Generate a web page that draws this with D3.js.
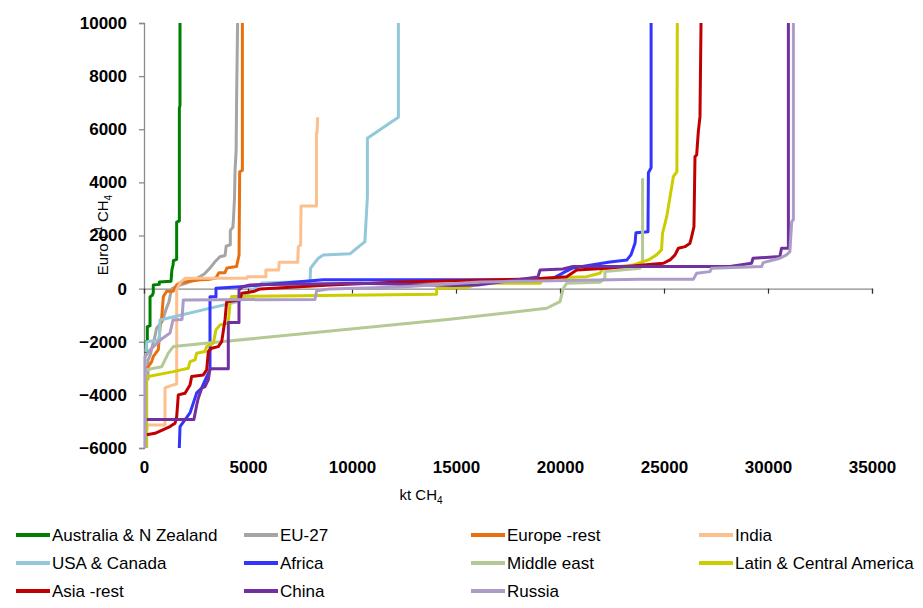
<!DOCTYPE html>
<html>
<head>
<meta charset="utf-8">
<script src="https://cdn.jsdelivr.net/npm/d3@7"></script>
<style>
  body { margin: 0; background: #fff; }
  svg { display: block; font-family: "Liberation Sans", Arial, sans-serif; }
</style>
</head>
<body>
<svg id="chart" width="923" height="608"></svg>
<script>
// Axis ticks
const xTicks = [0, 5000, 10000, 15000, 20000, 25000, 30000, 35000];
const yTicks = [-6000, -4000, -2000, 0, 2000, 4000, 6000, 8000, 10000];

// Marginal abatement cost curves: [kt CH4 cumulative, Euro per t CH4]
const australia = [[96,-2420],[96,-2000],[160,-1980],[160,-1430],[290,-1400],[290,-310],[400,-250],[447,-150],[447,140],[736,160],[736,250],[1300,280],[1340,700],[1400,900],[1410,1050],[1570,1100],[1570,2500],[1700,2550],[1700,6800],[1730,6900],[1730,10000]];
const eu27 = [[190,-3450],[190,-2700],[300,-2500],[450,-2000],[500,-1900],[600,-1500],[900,-1200],[1050,-800],[1200,-500],[1300,-100],[1350,0],[1600,100],[2000,200],[2400,320],[2900,550],[3200,800],[3400,1000],[3650,1200],[3900,1250],[3950,1600],[4150,1650],[4150,2200],[4270,2300],[4300,2600],[4350,3400],[4380,4500],[4430,5200],[4450,7000],[4500,10000]];
const europeRest = [[96,-3000],[200,-2950],[370,-2750],[450,-2550],[690,-2300],[770,-1450],[850,-1100],[930,-300],[1090,-100],[1400,-100],[1570,140],[1730,220],[2700,330],[3080,340],[3460,400],[3600,600],[3890,600],[3990,780],[4450,830],[4570,1270],[4600,4400],[4730,4450],[4730,10000]];
const india = [[144,-5320],[144,-5130],[1010,-5130],[1010,-3740],[1250,-3660],[1572,-3590],[1572,-50],[1731,215],[1971,390],[4952,390],[4966,450],[5860,450],[5860,700],[6476,700],[6500,990],[7390,990],[7420,1580],[7530,1645],[7550,3110],[8290,3110],[8290,5860],[8320,5860],[8350,6450]];
const usaCanada = [[96,-2380],[130,-2000],[736,-1930],[769,-1180],[4470,-500],[5670,215],[7980,265],[8010,770],[8380,1145],[8620,1270],[9900,1310],[10620,1770],[10740,3460],[10740,5660],[12230,6450],[12230,10000]];
const africa = [[1697,-6010],[1731,-5195],[2212,-4680],[2534,-3925],[2774,-3740],[3015,-3313],[3173,-3060],[3173,-310],[3460,-310],[3460,15],[4615,75],[8620,330],[19520,330],[20140,590],[20620,780],[22400,1005],[23220,1080],[23410,1270],[23610,1720],[23650,2100],[24230,2140],[24250,4360],[24380,4550],[24380,10000]];
const middleEast = [[48,-3060],[851,-2940],[1168,-2430],[1409,-2180],[3813,-1995],[14710,-1150],[19360,-740],[20000,-490],[20160,15],[20320,200],[21920,240],[22160,390],[22160,640],[23850,770],[23970,970],[23970,4160]];
const latinAmerica = [[130,-6010],[130,-3310],[207,-3310],[1409,-3125],[2130,-3000],[2212,-2750],[2452,-2685],[2534,-2430],[2933,-2370],[3015,-2180],[3332,-2055],[3460,-1555],[3654,-1365],[4050,-1300],[4135,-550],[4215,-300],[14070,-210],[14070,15],[15510,40],[16150,200],[19040,200],[19200,390],[21280,450],[21920,580],[22080,770],[23510,890],[24250,1080],[24640,1270],[24880,1460],[24930,2085],[25130,2710],[25450,4215],[25620,4400],[25640,10000]];
const asiaRest = [[130,-5500],[529,-5445],[1250,-5195],[1490,-5070],[1572,-4820],[1650,-4000],[1971,-3940],[2212,-3625],[2293,-3310],[2850,-3250],[3015,-3060],[3092,-2370],[3250,-2245],[3570,-2185],[3735,-1995],[3894,-1180],[3975,-490],[4615,-425],[4700,-175],[5255,-110],[5580,-10],[8940,140],[12310,250],[18700,365],[20320,450],[20800,700],[22240,770],[24970,955],[25290,1080],[25530,1270],[25690,1520],[26010,1580],[26250,1710],[26330,1960],[26440,2330],[26490,4970],[26570,5030],[26650,5910],[26730,6475],[26780,10000]];
const china = [[130,-4930],[2400,-4930],[2534,-4380],[2610,-4125],[2774,-3750],[2933,-3690],[3092,-3435],[3173,-3020],[4053,-3020],[4053,-1275],[4567,-1275],[4567,-50],[4735,65],[5100,140],[10385,200],[14860,120],[16060,140],[18940,440],[19040,700],[20140,740],[20620,830],[28170,830],[29210,955],[29280,1145],[30570,1205],[30650,1520],[30980,1520],[30980,10000]];
const russia = [[48,-6000],[48,-2570],[288,-2310],[625,-2050],[913,-1855],[1250,-1670],[1394,-1180],[1827,-1160],[1890,-425],[8220,-405],[8300,-85],[8940,-10],[12310,65],[16150,250],[23850,355],[26410,355],[26570,580],[27210,640],[27290,770],[29690,830],[29770,980],[30570,1145],[30890,1270],[31050,1390],[31140,2520],[31220,2590],[31220,10000]];

const seriesNames = ["Australia & N Zealand", "EU-27", "Europe -rest", "India", "USA & Canada", "Africa", "Middle east", "Latin & Central America", "Asia -rest", "China", "Russia"];
const seriesData = [australia, eu27, europeRest, india, usaCanada, africa, middleEast, latinAmerica, asiaRest, china, russia];
const seriesColors = ["#008000", "#A5A5A5", "#E8700F", "#FBC08E", "#92C8D9", "#3434FF", "#B4C996", "#CCCC00", "#C00000", "#7030A0", "#AC9CC8"];

const svg = d3.select("#chart");
const x = d3.scaleLinear().domain([0, 35000]).range([144, 872]);
const y = d3.scaleLinear().domain([-6000, 10000]).range([448, 23]);

svg.append("defs").append("clipPath").attr("id", "plotClip")
  .append("rect").attr("x", x(0) - 2).attr("y", y(10000)).attr("width", x(35000) - x(0) + 4).attr("height", y(-6000) - y(10000));

// Y axis
const yAxis = svg.append("g").attr("transform", `translate(${x(0)},0)`)
  .call(d3.axisLeft(y).tickValues(yTicks).tickSize(5).tickPadding(12).tickFormat(d3.format("d")));
yAxis.select(".domain").attr("stroke", "#8a8a8a").attr("stroke-width", 1.3);
yAxis.selectAll(".tick line").attr("stroke", "#8a8a8a").attr("stroke-width", 1.3);
yAxis.selectAll("text").attr("font-size", 17).attr("font-weight", "bold").attr("fill", "#000");

// X axis line through zero, with tick marks
const xAxis = svg.append("g").attr("transform", `translate(0,${y(0)})`)
  .call(d3.axisBottom(x).tickValues(xTicks).tickSize(5).tickFormat(""));
xAxis.select(".domain").attr("stroke", "#8a8a8a").attr("stroke-width", 1.3);
xAxis.selectAll(".tick line").attr("stroke", "#333").attr("stroke-width", 1.2);

// X tick labels along the bottom of the plot area
const xLabels = svg.append("g").attr("transform", `translate(0,${y(-6000)})`)
  .call(d3.axisBottom(x).tickValues(xTicks).tickSize(0).tickPadding(13).tickFormat(d3.format("d")));
xLabels.select(".domain").remove();
xLabels.selectAll("text").attr("font-size", 17).attr("font-weight", "bold").attr("fill", "#000");

// Axis titles
const xTitle = svg.append("text").attr("x", 421).attr("y", 500).attr("text-anchor", "middle")
  .attr("font-size", 15).attr("fill", "#000");
xTitle.append("tspan").text("kt CH");
xTitle.append("tspan").attr("font-size", 10).attr("dy", 4).text("4");

const yTitle = svg.append("text").attr("transform", "translate(108,235) rotate(-90)")
  .attr("text-anchor", "middle").attr("font-size", 15).attr("fill", "#000");
yTitle.append("tspan").text("Euro t");
yTitle.append("tspan").attr("font-size", 10).attr("dy", -6).text("-1");
yTitle.append("tspan").attr("dy", 6).text(" CH");
yTitle.append("tspan").attr("font-size", 10).attr("dy", 4).text("4");

// Curves
const line = d3.line().x(d => x(d[0])).y(d => y(d[1]));
svg.append("g").attr("clip-path", "url(#plotClip)")
  .selectAll("path").data(seriesData).join("path")
  .attr("d", line)
  .attr("fill", "none")
  .attr("stroke", (d, i) => seriesColors[i])
  .attr("stroke-width", 3)
  .attr("stroke-linejoin", "round");

// Legend
const legendCols = [16, 244, 471, 699];
const legendRows = [535, 563, 591];
const legend = svg.append("g").selectAll("g").data(seriesNames).join("g")
  .attr("transform", (d, i) => `translate(${legendCols[i % 4]},${legendRows[Math.floor(i / 4)]})`);
legend.append("line").attr("x1", 0).attr("x2", 34).attr("y1", 0).attr("y2", 0)
  .attr("stroke", (d, i) => seriesColors[i]).attr("stroke-width", 4);
legend.append("text").attr("x", 36).attr("y", 0).attr("dy", "0.35em")
  .attr("font-size", 17).attr("fill", "#000").text(d => d);
</script>
</body>
</html>
